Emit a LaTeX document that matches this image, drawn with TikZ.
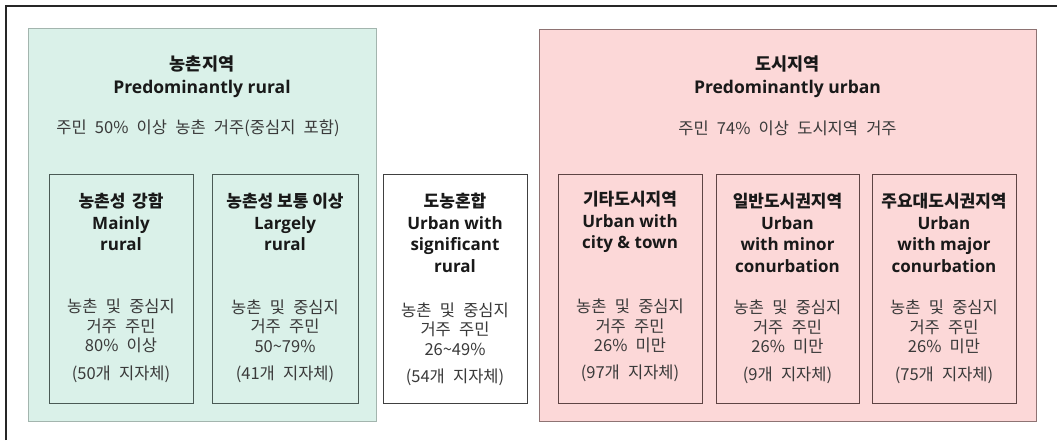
\documentclass[tikz,border=0pt]{standalone}
\usepackage{fontspec}
\setmainfont{Noto Sans CJK KR}
\newfontfamily\latf{Open Sans}
\definecolor{gfill}{HTML}{DAF1E9}
\definecolor{gline}{HTML}{A3B5AE}
\definecolor{ginner}{HTML}{4A5A55}
\definecolor{rfill}{HTML}{FCD8D8}
\definecolor{rline}{HTML}{8E7373}
\definecolor{rinner}{HTML}{5E4444}
\definecolor{bodytxt}{HTML}{3A3A3A}
\newcommand{\en}[1]{{\latf\bfseries #1}}
\newcommand{\bodyfont}{\fontsize{16.5}{19.5}\selectfont\spaceskip 0.5em plus 0.1em\relax}
\tikzset{
  bigbox/.style={draw, line width=0.9pt, inner sep=0pt, outer sep=0pt, anchor=north west},
  smallbox/.style={draw, line width=1pt, inner sep=0pt, outer sep=0pt, anchor=north west, minimum width=#1, minimum height=229pt},
  ttl/.style={align=center, inner sep=0pt, text=black!90, font={\fontsize{17}{21.5}\selectfont\bfseries}},
  bigttl/.style={align=center, inner sep=0pt, text=black!90, font={\fontsize{17.5}{23}\selectfont\bfseries}},
  body/.style={align=center, inner sep=0pt, text=bodytxt, font={\bodyfont}},
}
\begin{document}
\begin{tikzpicture}[x=1pt,y=-1pt]
\useasboundingbox (0,0) rectangle (1057,440);
\coordinate (fa) at (6,440);
\coordinate (fb) at (6,6);
\coordinate (fc) at (1057,6);
\draw[line width=1.3pt, black!85] (fa) -- (fb) -- (fc);

% big boxes
\node[bigbox, draw=gline, fill=gfill, minimum width=348pt, minimum height=393pt] (rural) at (28,28) {};
\node[bigbox, draw=rline, fill=rfill, minimum width=497pt, minimum height=392pt] (urban) at (539,29) {};

\node[bigttl] (ruralT) at (202,77) {농촌지역\\\en{Predominantly rural}};
\node[body] (ruralB) at (198,128) {주민 50\% 이상 농촌 거주(중심지 포함)};
\node[bigttl] (urbanT) at (787.5,77) {도시지역\\\en{Predominantly urban}};
\node[body] (urbanB) at (787.5,128) {주민 74\% 이상 도시지역 거주};

% small boxes
\node[smallbox=144pt, draw=ginner, fill=gfill] (b1) at (49,174) {};
\node[smallbox=146pt, draw=ginner, fill=gfill] (b2) at (212,174) {};
\node[smallbox=144pt, draw=black!75, fill=white] (m) at (383,174) {};
\node[smallbox=144pt, draw=rinner, fill=rfill] (u1) at (558,174) {};
\node[smallbox=143pt, draw=rinner, fill=rfill] (u2) at (716,174) {};
\node[smallbox=144pt, draw=rinner, fill=rfill] (u3) at (872,174) {};

% texts
\node[ttl] (b1T) at (121,222) {농촌성 \,강함\\\en{Mainly}\\\en{rural}};
\node[body] (b1B) at (121,326) {농촌 및 중심지\\거주 주민\\80\% 이상};
\node[body] (b1C) at (121,374) {(50개 지자체)};

\node[ttl] (b2T) at (285,222) {농촌성 보통 이상\\\en{Largely}\\\en{rural}};
\node[body] (b2B) at (285,326) {농촌 및 중심지\\거주 주민\\50\textasciitilde 79\%};
\node[body] (b2C) at (285,374) {(41개 지자체)};

\node[ttl] (mT) at (455,233) {도농혼합\\\en{Urban with}\\\en{significant}\\\en{rural}};
\node[body] (mB) at (455,329) {농촌 및 중심지\\거주 주민\\26\textasciitilde 49\%};
\node[body] (mC) at (455,377) {(54개 지자체)};

\node[ttl] (u1T) at (630,222) {기타도시지역\\\en{Urban with}\\\en{city \& town}};
\node[body] (u1B) at (630,326) {농촌 및 중심지\\거주 주민\\26\% 미만};
\node[body] (u1C) at (630,373) {(97개 지자체)};

\node[ttl] (u2T) at (787.5,233) {일반도시권지역\\\en{Urban}\\\en{with minor}\\\en{conurbation}};
\node[body] (u2B) at (787.5,327) {농촌 및 중심지\\거주 주민\\26\% 미만};
\node[body] (u2C) at (787.5,375) {(9개 지자체)};

\node[ttl] (u3T) at (944,233) {주요대도시권지역\\\en{Urban}\\\en{with major}\\\en{conurbation}};
\node[body] (u3B) at (944,327) {농촌 및 중심지\\거주 주민\\26\% 미만};
\node[body] (u3C) at (944,375) {(75개 지자체)};
\end{tikzpicture}
\end{document}
